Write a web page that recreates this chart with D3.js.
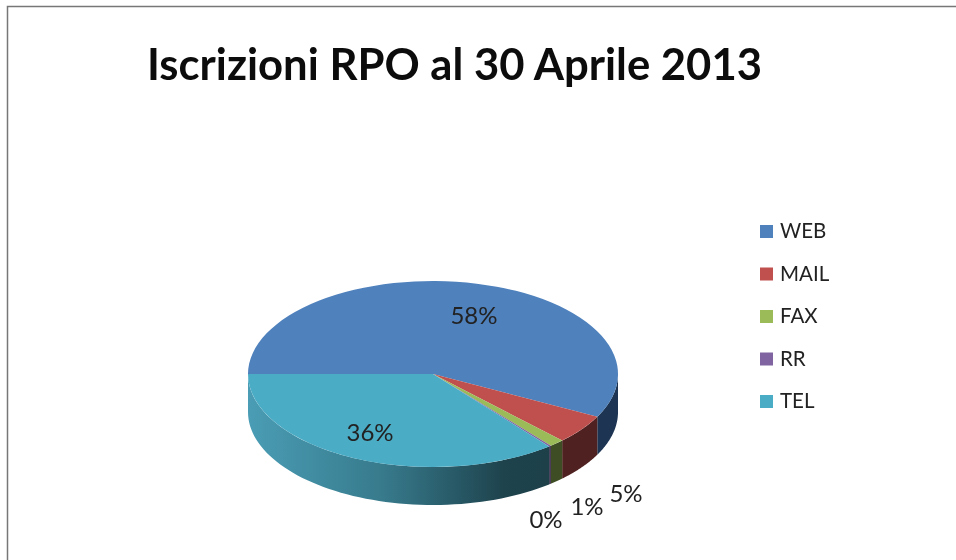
<!DOCTYPE html>
<html>
<head>
<meta charset="utf-8">
<script src="https://cdn.jsdelivr.net/npm/d3@7"></script>
<style>
  html, body { margin: 0; padding: 0; background: #fff; }
  svg { display: block; filter: blur(0.5px); }
  text { font-family: Lato, "Open Sans", sans-serif; fill: #222; }
</style>
</head>
<body>
<div id="chart"></div>
<script>
//// data
var categories = ["WEB", "MAIL", "FAX", "RR", "TEL"];
var values = [57.6, 5.1, 1.3, 0.2, 35.8];
var colors = ["#4f81bd", "#c0504d", "#9bbb59", "#8064a2", "#4bacc6"];
var sideColors = ["#1d3553", "#4f2120", "#3f4d24", "#3c2f4e", "url(#telSide)"];

//// chart
var width = 956, height = 560;
var cx = 433, cy = 374, rx = 185, ry = 93, depth = 38;

var svg = d3.select("#chart")
  .append("svg")
    .attr("width", width)
    .attr("height", height);

// frame, only top and left are inside the crop
svg.append("path")
  .attr("d", "M7.5," + (height + 2) + "V6.5H" + (width + 2))
  .attr("fill", "none")
  .attr("stroke", "#777")
  .attr("stroke-width", 1.5);

svg.append("text")
  .attr("x", 147)
  .attr("y", 80)
  .attr("font-size", 43)
  .attr("font-weight", 700)
  .style("fill", "#0c0c0c")
  .attr("textLength", 615)
  .attr("lengthAdjust", "spacingAndGlyphs")
  .text("Iscrizioni RPO al 30 Aprile 2013");

//// gradient on the side of the last slice
var grad = svg.append("defs").append("linearGradient")
  .attr("id", "telSide")
  .attr("x1", 0).attr("x2", 1).attr("y1", 0).attr("y2", 0);
grad.append("stop").attr("offset", 0).attr("stop-color", "#4a9db5");
grad.append("stop").attr("offset", 0.45).attr("stop-color", "#377a8c");
grad.append("stop").attr("offset", 0.85).attr("stop-color", "#1e434d");
grad.append("stop").attr("offset", 1).attr("stop-color", "#1d4049");

//// pie
var pie = d3.pie()
  .sort(null)
  .startAngle(-Math.PI / 2)
  .endAngle(Math.PI * 1.5);
var slices = pie(values);

var pieG = svg.append("g")
  .attr("transform", "translate(" + cx + "," + cy + ")");

// side wall, only the front half (angle 90 to 270 deg) can be seen
var side = d3.area()
  .x(function(a) { return Math.sin(a) * rx; })
  .y0(function(a) { return -Math.cos(a) * ry; })
  .y1(function(a) { return -Math.cos(a) * ry + depth; });

pieG.selectAll(".side")
    .data(slices)
  .enter().append("path")
    .attr("class", "side")
    .attr("fill", function(d, i) { return sideColors[i]; })
    .attr("d", function(d) {
      var a0 = Math.max(d.startAngle, Math.PI / 2),
          a1 = Math.min(d.endAngle, Math.PI * 1.5);
      if (a1 <= a0) return null;
      var n = 60, step = (a1 - a0) / n;
      return side(d3.range(n + 1).map(function(k) { return a0 + k * step; }));
    });

// top face, circle arcs squashed to an ellipse
var arc = d3.arc().innerRadius(0).outerRadius(rx);

pieG.append("g")
  .attr("transform", "scale(1," + (ry / rx) + ")")
  .selectAll(".slice")
    .data(slices)
  .enter().append("path")
    .attr("class", "slice")
    .attr("d", arc)
    .attr("fill", function(d, i) { return colors[i]; });

//// data labels
var total = d3.sum(values);
var labelX = [41, 193, 154, 113, -63];
var labelY = [-50, 128, 141, 154, 67];

pieG.selectAll(".lbl")
    .data(values)
  .enter().append("text")
    .attr("class", "lbl")
    .attr("x", function(d, i) { return labelX[i]; })
    .attr("y", function(d, i) { return labelY[i]; })
    .attr("text-anchor", "middle")
    .attr("font-size", 24)
    .text(function(d) { return d3.format(".0f")(d / total * 100) + "%"; });

//// legend
var legendY = d3.scalePoint()
  .domain(categories)
  .range([231, 401]);

var legend = svg.selectAll(".legend")
    .data(categories)
  .enter().append("g")
    .attr("class", "legend")
    .attr("transform", function(d) { return "translate(760," + legendY(d) + ")"; });

legend.append("rect")
  .attr("x", 0).attr("y", -6)
  .attr("width", 13).attr("height", 13)
  .attr("fill", function(d, i) { return colors[i]; });

legend.append("text")
  .attr("x", 20)
  .attr("y", 7)
  .attr("font-size", 20.5)
  .text(function(d) { return d; });
</script>
</body>
</html>
